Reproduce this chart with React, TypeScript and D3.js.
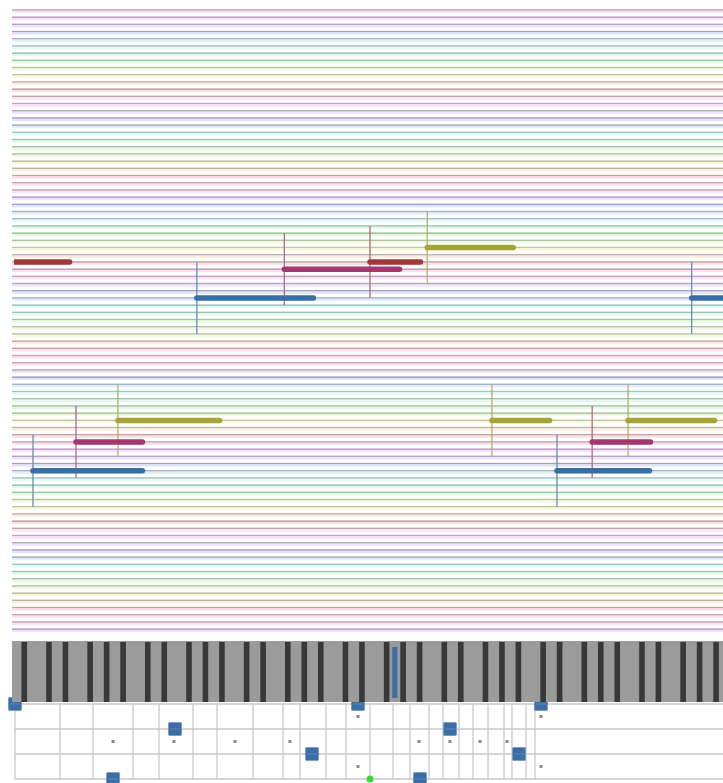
import React from "react";
import * as d3 from "d3";

// ---- piano-roll data (MIDI pitches, time in arbitrary units 0..100) ----
const ROLL_TOP_PITCH = 112;
const ROLL_BOTTOM_PITCH = 26;
const notePitches = [77, 72, 76, 77, 79, 72, 48, 52, 55, 55, 48, 52, 55];
const noteStarts = [-1.0, 26.0, 38.3, 50.35, 58.4, 95.6, 2.95, 9.0, 14.9, 67.5, 76.65, 81.6, 86.65];
const noteEnds = [8.1, 42.4, 54.5, 57.45, 70.5, 105, 18.35, 18.35, 29.2, 75.6, 89.65, 89.8, 98.8];

// ---- keyboard ----
const KEY_LOW = 21;
const KEY_HIGH = 108;
const highlightedKeys = [67];

// ---- bottom grid panel ----
const gridColumns = [0.42, 6.75, 11.39, 17.02, 20.68, 25.46, 28.83, 33.9, 38.12, 40.51, 44.16, 46.98, 50.35, 53.59, 55.98, 58.65, 60.62, 62.87, 64.84, 66.95, 69.2, 70.32, 72.29, 73.56];
const gridRows = [0, 1, 2, 3];
const squareTimes = [0.42, 22.93, 14.21, 42.19, 48.66, 61.6, 57.38, 71.31, 74.4];
const squareRows = [0, 1, 3, 2, 0, 1, 3, 2, 0];
const dotTimes = [14.21, 22.78, 31.36, 39.1, 48.66, 48.66, 57.24, 61.6, 65.82, 69.62, 74.4, 74.4];
const dotRows = [1.5, 1.5, 1.5, 1.5, 0.5, 2.5, 1.5, 1.5, 1.5, 1.5, 0.5, 2.5];
const cursorTime = [50.35];
const cursorRow = [3];

const W = 723;
const H = 783;

const hueOf = (p: number) => (210 + 30 * (((p % 12) + 12) % 12)) % 360;
const isBlack = (m: number) => [1, 3, 6, 8, 10].includes(m % 12);

export default function App() {
  const x = d3.scaleLinear().domain([0, 100]).range([12, 723]);
  const y = d3
    .scaleLinear()
    .domain([ROLL_TOP_PITCH, ROLL_BOTTOM_PITCH])
    .range([10, 10 + (ROLL_TOP_PITCH - ROLL_BOTTOM_PITCH) * 7.2]);
  const keys = d3.range(KEY_LOW, KEY_HIGH + 1);
  const kx = d3.scaleLinear().domain([KEY_LOW, KEY_HIGH + 1]).range([11.9, 11.9 + 88 * 8.236]);
  const rowY = d3.scaleLinear().domain([0, 3]).range([704, 779]);
  const rollPitches = d3.range(ROLL_BOTTOM_PITCH, ROLL_TOP_PITCH + 1);

  return (
    <svg
      width={W}
      height={H}
      style={{ position: "absolute", left: 0, top: 0, background: "#fff" }}
    >
      <defs>
        <clipPath id="rollclip">
          <rect x={14} y={0} width={W - 14} height={640} />
        </clipPath>
      </defs>

      {/* roll lines */}
      <g>
        {rollPitches.map((p) => {
          const h = hueOf(p);
          const yy = y(p);
          return (
            <g key={p}>
              <rect x={12} y={yy - 0.8} width={W - 12} height={1.6} fill={`hsl(${h},22%,70%)`} />
              <rect x={12} y={yy + 0.8} width={W - 12} height={2.2} fill={`hsl(${h},65%,93%)`} />
            </g>
          );
        })}
      </g>

      {/* notes */}
      <g clipPath="url(#rollclip)">
        {notePitches.map((p, i) => (
          <line
            key={"v" + i}
            x1={x(noteStarts[i])}
            x2={x(noteStarts[i])}
            y1={y(p + 5)}
            y2={y(p - 5)}
            stroke={`hsl(${hueOf(p)},32%,55%)`}
            strokeWidth={1.3}
          />
        ))}
        {notePitches.map((p, i) => (
          <line
            key={"b" + i}
            x1={x(noteStarts[i])}
            x2={x(noteEnds[i])}
            y1={y(p)}
            y2={y(p)}
            stroke={`hsl(${hueOf(p)},50%,43%)`}
            strokeWidth={5.5}
            strokeLinecap="round"
          />
        ))}
      </g>

      {/* bottom grid panel */}
      <g>
        {gridRows.map((r) => (
          <line key={"r" + r} x1={15} x2={W} y1={rowY(r)} y2={rowY(r)} stroke="#c9c9c9" strokeWidth={1.3} />
        ))}
        {gridColumns.map((t, i) => (
          <line key={"c" + i} x1={x(t)} x2={x(t)} y1={rowY(0)} y2={rowY(3)} stroke="#c9c9c9" strokeWidth={1.3} />
        ))}
        {dotTimes.map((t, i) => (
          <rect key={"d" + i} x={x(t) - 1.5} y={rowY(dotRows[i]) - 1.5} width={3} height={3} fill="#8a8a8a" />
        ))}
        {squareTimes.map((t, i) => (
          <g key={"s" + i}>
            <rect
              x={x(t) - 6.5}
              y={rowY(squareRows[i]) - 6.5}
              width={13}
              height={13}
              rx={1}
              fill="#3c6ea6"
              stroke="#6d95c2"
              strokeWidth={0.8}
            />
            <line
              x1={x(t) - 5}
              x2={x(t) + 5}
              y1={rowY(squareRows[i])}
              y2={rowY(squareRows[i])}
              stroke="#5a86b8"
              strokeWidth={1}
            />
          </g>
        ))}
        {cursorTime.map((t, i) => (
          <circle key={"g" + i} cx={x(t)} cy={rowY(cursorRow[i])} r={3.5} fill="#2fdc2f" />
        ))}
      </g>

      {/* keyboard */}
      <g>
        <rect x={12} y={641} width={W - 12} height={61} fill="#9b9b9b" />
        {keys.filter(isBlack).map((m) => (
          <rect
            key={m}
            x={(kx(m) + kx(m + 1)) / 2 - 2.8}
            y={642}
            width={5.6}
            height={60}
            fill="#383838"
          />
        ))}
        {highlightedKeys.map((m) => (
          <rect
            key={"h" + m}
            x={(kx(m) + kx(m + 1)) / 2 - 2.6}
            y={647}
            width={5.2}
            height={51}
            fill="#3c6ea6"
          />
        ))}
      </g>
    </svg>
  );
}
